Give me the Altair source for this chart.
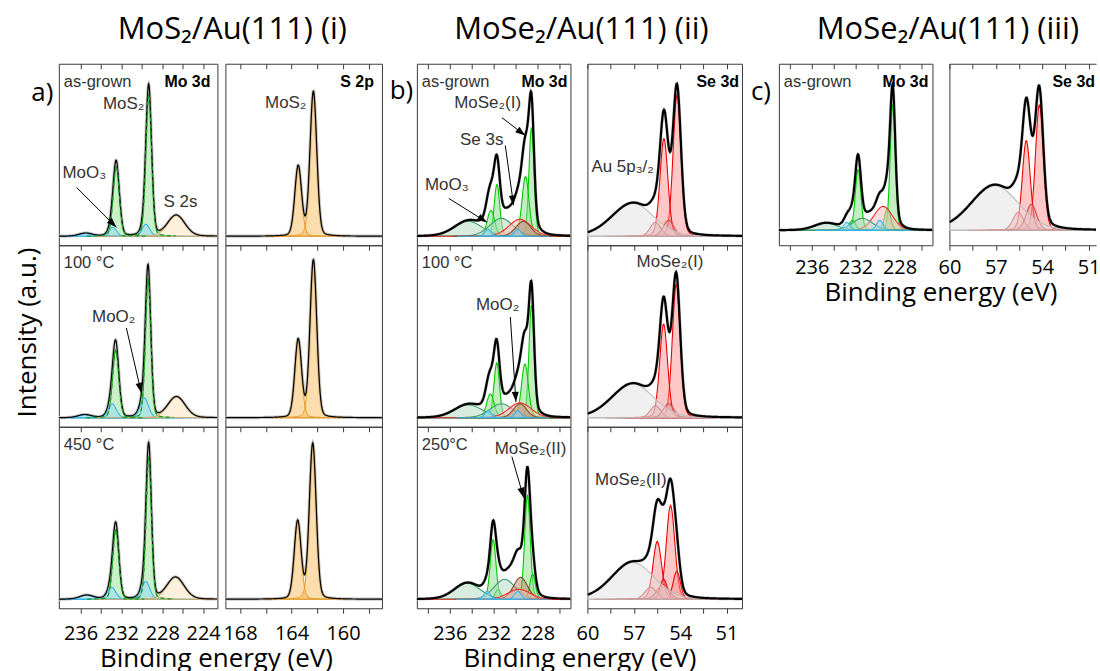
import numpy as np
import pandas as pd
import altair as alt

# ---------------------------------------------------------------------------
# Fitted XPS components: (binding energy / eV, peak height / a.u., FWHM / eV, species)
# ---------------------------------------------------------------------------
# (i) MoS2/Au(111), Mo 3d region
MOS2_MO3D_ASGROWN = [
    (229.32, 143, 0.66, "MoS2"), (232.50, 70, 0.72, "MoS2"),
    (229.60, 12, 0.90, "MoOx"), (232.85, 9, 0.90, "MoOx"), (235.50, 3, 1.50, "MoOx"),
    (226.63, 21, 2.00, "S2s"),
]
MOS2_MO3D_100C = [
    (229.38, 140, 0.62, "MoS2"), (232.55, 68, 0.72, "MoS2"),
    (229.75, 20, 0.95, "MoOx"), (232.90, 14, 0.95, "MoOx"), (235.60, 3, 1.50, "MoOx"),
    (226.60, 21, 2.00, "S2s"),
]
MOS2_MO3D_450C = [
    (229.32, 143, 0.62, "MoS2"), (232.54, 70, 0.70, "MoS2"),
    (229.62, 18, 0.95, "MoOx"), (232.95, 12, 0.95, "MoOx"), (235.40, 4, 1.60, "MoOx"),
    (226.70, 22, 2.00, "S2s"),
]
# (i) MoS2/Au(111), S 2p region
MOS2_S2P_ASGROWN = [(162.30, 145, 0.62, "S2p"), (163.48, 70, 0.62, "S2p")]
MOS2_S2P_100C = [(162.30, 158, 0.62, "S2p"), (163.48, 78, 0.62, "S2p")]
MOS2_S2P_450C = [(162.35, 156, 0.63, "S2p"), (163.52, 78, 0.63, "S2p")]

# (ii) MoSe2/Au(111), Mo 3d region
MOSE2_MO3D_ASGROWN = [
    (228.55, 109, 0.55, "MoSe2"), (231.70, 52, 0.60, "MoSe2"),
    (229.10, 60, 0.75, "MoSe2"), (232.25, 26, 0.80, "MoSe2"),
    (234.30, 15, 3.00, "MoO3"), (231.30, 18, 2.50, "MoO3"),
    (229.60, 17, 2.40, "Se3s"), (229.30, 15, 1.60, "MoO2"),
    (232.50, 7, 0.70, "MoOx"), (229.80, 7, 0.70, "MoOx"),
]
MOSE2_MO3D_100C = [
    (228.55, 113, 0.55, "MoSe2"), (231.72, 55, 0.60, "MoSe2"),
    (229.15, 54, 0.75, "MoSe2"), (232.30, 24, 0.80, "MoSe2"),
    (234.30, 13, 3.00, "MoO3"), (231.30, 14, 2.50, "MoO3"),
    (229.60, 15, 2.40, "Se3s"), (229.60, 14, 1.40, "MoO2"),
    (232.50, 7, 0.70, "MoOx"), (229.80, 7, 0.70, "MoOx"),
]
MOSE2_MO3D_250C = [
    (228.92, 104, 0.60, "MoSe2"), (228.45, 25, 0.60, "MoSe2"),
    (232.05, 60, 0.62, "MoSe2"), (231.60, 10, 0.60, "MoSe2"),
    (231.00, 20, 2.30, "MoO3"), (234.40, 16, 2.80, "MoO3"),
    (229.55, 22, 1.50, "MoO2"), (229.70, 10, 2.40, "Se3s"),
    (232.60, 8, 0.70, "MoOx"), (229.80, 8, 0.70, "MoOx"),
]
# (ii) MoSe2/Au(111), Se 3d region
MOSE2_SE3D_ASGROWN = [
    (54.20, 142, 0.60, "Se3d"), (55.05, 98, 0.60, "Se3d"),
    (55.60, 14, 0.80, "Se3d_b"), (54.75, 16, 0.80, "Se3d_b"),
    (57.06, 33, 3.20, "Au"),
]
MOSE2_SE3D_100C = [
    (54.25, 134, 0.60, "Se3d"), (55.07, 94, 0.60, "Se3d"),
    (55.60, 12, 0.80, "Se3d_b"), (54.75, 14, 0.80, "Se3d_b"),
    (57.06, 34, 3.20, "Au"),
]
MOSE2_SE3D_250C = [
    (54.62, 94, 0.65, "Se3d"), (55.48, 58, 0.65, "Se3d"),
    (54.22, 28, 0.55, "Se3d"), (55.07, 20, 0.55, "Se3d"),
    (55.90, 12, 0.90, "Se3d_b"), (55.10, 15, 0.90, "Se3d_b"),
    (57.06, 37, 3.20, "Au"),
]
# (iii) MoSe2/Au(111), as-grown
MOSE2_III_MO3D = [
    (228.62, 126, 0.55, "MoSe2"), (231.78, 61, 0.60, "MoSe2"),
    (229.10, 22, 0.65, "MoSe2"), (232.30, 10, 0.70, "MoSe2"),
    (229.50, 24, 2.00, "Se3s"), (234.70, 7, 2.50, "MoO3"), (231.40, 12, 2.20, "MoO3"),
    (232.80, 8, 0.70, "MoOx"), (229.80, 10, 0.70, "MoOx"),
]
MOSE2_III_SE3D = [
    (54.18, 126, 0.60, "Se3d"), (55.03, 90, 0.60, "Se3d"),
    (55.55, 18, 0.80, "Se3d_b"), (54.70, 26, 0.80, "Se3d_b"),
    (57.07, 45, 3.60, "Au"),
]

# Binding-energy windows (left edge, right edge) and tick values
MO3D_WINDOW_I = (238.12, 222.6)
S2P_WINDOW = (169.14, 156.97)
MO3D_WINDOW = (239.0, 225.0)
SE3D_WINDOW = (60.0, 50.0)
SE3D_WINDOW_III = (60.0, 50.52)
MO3D_TICKS_I = [236, 234, 232, 230, 228, 226, 224]
S2P_TICKS = [168, 166, 164, 162, 160, 158]
MO3D_TICKS = [238, 236, 234, 232, 230, 228, 226]
SE3D_TICKS = [60, 58.5, 57, 55.5, 54, 52.5, 51]

# Peak labels (binding energy, intensity, text) and arrows (from eV, I, to eV, I)
NOTES_MOS2_MO_ASGROWN = [(231.78, 133, "MoS₂"), (235.63, 63, "MoO₃"), (226.21, 34, "S 2s")]
ARROWS_MOS2_MO_ASGROWN = [(236.39, 49, 232.49, 9)]
NOTES_MOS2_MO_100C = [(232.75, 101, "MoO₂")]
ARROWS_MOS2_MO_100C = [(231.51, 90, 230.05, 25)]
NOTES_MOS2_S_ASGROWN = [(164.45, 134, "MoS₂")]
NOTES_MOSE2_MO_ASGROWN = [(232.55, 134, "MoSe₂(I)"), (233.09, 97, "Se 3s"), (236.27, 51, "MoO₃")]
ARROWS_MOSE2_MO_ASGROWN = [(231.25, 119, 229.12, 101), (230.94, 91, 230.18, 31),
                           (236.09, 38, 232.61, 14)]
NOTES_MOSE2_MO_100C = [(231.64, 113, "MoO₂")]
ARROWS_MOSE2_MO_100C = [(230.48, 101, 229.97, 16)]
NOTES_MOSE2_MO_250C = [(228.64, 151, "MoSe₂(II)")]
ARROWS_MOSE2_MO_250C = [(230.34, 143, 229.27, 102)]
NOTES_MOSE2_SE_ASGROWN = [(57.72, 69, "Au 5p₃/₂")]
NOTES_MOSE2_SE_100C = [(54.66, 156, "MoSe₂(I)")]
NOTES_MOSE2_SE_250C = [(57.19, 120, "MoSe₂(II)")]

# ---------------------------------------------------------------------------
# Styling
# ---------------------------------------------------------------------------
HEAD_FONT = "Open Sans"
LABEL_FONT = "Liberation Sans"
INK = "#333333"
FRAME = "#3a3a3a"

KINDS = ["MoS2", "MoSe2", "MoO3", "MoOx", "MoO2", "Se3s", "Se3d", "Se3d_b", "Au", "S2p", "S2s"]
FILLS = ["#9FE39F", "#8FE08F", "#B3DCC2", "#94D9F2", "#B58A6E", "#FFB8B8",
         "#FF8F8F", "#E9A0A0", "#E0E0E0", "#F8B84E", "#FBDDB4"]
STROKES = ["#22A822", "#00CC00", "#3E9E68", "#35B7EA", "#8B4A2B", "#FF2A2A",
           "#F00000", "#D04848", "#BDBDBD", "#E5A035", "#D9A867"]
OPACITIES = [0.55, 0.45, 0.5, 0.5, 0.55, 0.35, 0.45, 0.4, 0.75, 0.85, 0.8]
ETA = 0.15  # Lorentzian fraction of the pseudo-Voigt line shape
ARROW_HEAD = "M0,0L-0.35,1L0.35,1Z"
ROW_H = 182


def pseudo_voigt(x, c, h, w, eta=ETA):
    t = (x - c) / w
    return h * ((1 - eta) * np.exp(-4 * np.log(2) * t * t) + eta / (1 + 4 * t * t))


def component_table(comps, lo, hi):
    parts = []
    for i, (c, h, w, kind) in enumerate(comps):
        a, b = max(lo, c - 4 * w), min(hi, c + 4 * w)
        n = int(np.clip((b - a) / (w / 14), 40, 320)) + 1
        x = np.linspace(a, b, n)
        parts.append(pd.DataFrame({"eV": x.round(3),
                                   "I": pseudo_voigt(x, c, h, w).round(2),
                                   "comp": i, "kind": kind}))
    return pd.concat(parts, ignore_index=True)


def envelope_table(comps, lo, hi):
    x = np.linspace(lo, hi, int((hi - lo) / 0.03) + 1)
    y = sum(pseudo_voigt(x, c, h, w) for c, h, w, _ in comps)
    return pd.DataFrame({"eV": x.round(3), "I": np.round(y, 2)})


def panel(comps, window, ticks, label_every, width, *, ydom=(-9, 173), env_width=1.2,
          state="", core="", core_dx=6, notes=(), arrows=(), below=None, title=None,
          framed=True, dashed=False, base_color="#3DBDEB"):
    left, right = window
    lo, hi = min(window), max(window)
    xs = alt.Scale(domain=[left, right], nice=False, zero=False)
    ys = alt.Scale(domain=list(ydom), nice=False, zero=False)
    comp_df = component_table(comps, lo, hi)
    env_df = envelope_table(comps, lo, hi)

    def X(field, axis=None):
        return alt.X(f"{field}:Q", scale=xs, axis=axis)

    def Y(field, axis=None):
        return alt.Y(f"{field}:Q", scale=ys, axis=axis)

    top_ticks = alt.Axis(orient="top", values=ticks, labels=False, domain=False, ticks=True,
                         tickSize=5, offset=-5, title="", grid=False)
    left_axis = None if framed else alt.Axis(domain=True, ticks=False, labels=False,
                                            title="", grid=False)
    layers = [
        alt.Chart(pd.DataFrame({"eV": [lo, hi], "I": [0, 0]}))
        .mark_line(color=base_color, strokeWidth=1.5, clip=True)
        .encode(x=X("eV", top_ticks), y=Y("I", left_axis)),
        alt.Chart(env_df).mark_line(color="#C6C6C6", strokeWidth=3.2, clip=True)
        .encode(x=X("eV"), y=Y("I")),
        alt.Chart(comp_df).mark_area(strokeWidth=1.1, clip=True).encode(
            x=X("eV"), y=Y("I"), y2=alt.datum(0), detail="comp:N",
            fill=alt.Fill("kind:N", scale=alt.Scale(domain=KINDS, range=FILLS), legend=None),
            stroke=alt.Stroke("kind:N", scale=alt.Scale(domain=KINDS, range=STROKES),
                              legend=None),
            fillOpacity=alt.FillOpacity("kind:N",
                                        scale=alt.Scale(domain=KINDS, range=OPACITIES),
                                        legend=None)),
    ]

    if below is None:
        bottom_axis = None
    else:
        kw = dict(orient="bottom", values=ticks,
                  labelExpr=f"datum.value % {label_every} == 0 ? datum.label : ''",
                  domain=not framed, tickSize=5, labelFont=HEAD_FONT, labelFontSize=20,
                  labelColor="black", labelPadding=below["pad"], labelBaseline="alphabetic",
                  labelFlush=False, labelOverlap=False, grid=False, title=below.get("title", ""))
        if below.get("title"):
            kw.update(titleFont=HEAD_FONT, titleFontSize=26, titleFontWeight="normal",
                      titleColor="black", titleX=below["tx"], titleY=below["ty"],
                      titleAlign="center", titleBaseline="alphabetic")
        bottom_axis = alt.Axis(**kw)

    layers.append(alt.Chart(env_df).mark_line(color="black", strokeWidth=env_width, clip=True)
                  .encode(x=X("eV", bottom_axis), y=Y("I")))

    if dashed:
        layers.append(alt.Chart(comp_df).transform_filter(alt.datum.kind == "MoS2")
                      .mark_line(color="#1E9A1E", strokeWidth=1.3, strokeDash=[4, 3], clip=True)
                      .encode(x=X("eV"), y=Y("I"), detail="comp:N"))

    if not framed:
        layers.append(alt.Chart(pd.DataFrame({"eV": [lo, hi], "I": [0, 0]}))
                      .mark_line(opacity=0)
                      .encode(x=X("eV", alt.Axis(orient="top", domain=True, ticks=False,
                                                 labels=False, title="", grid=False)),
                              y=Y("I")))

    if notes:
        ndf = pd.DataFrame(notes, columns=["eV", "I", "text"])
        layers.append(alt.Chart(ndf).mark_text(font=LABEL_FONT, fontSize=17, color=INK,
                                               align="center", baseline="middle")
                      .encode(x=X("eV"), y=Y("I"), text="text:N"))

    if arrows:
        adf = pd.DataFrame(arrows, columns=["x1", "y1", "x2", "y2"])
        sx = width / (left - right)
        sy = ROW_H / (ydom[1] - ydom[0])
        dpx = -(adf["x2"] - adf["x1"]) * sx
        dpy = -(adf["y2"] - adf["y1"]) * sy
        adf["ang"] = (np.degrees(np.arctan2(dpx, -dpy)) % 360).round(1)
        layers.append(alt.Chart(adf).mark_rule(color="black", strokeWidth=1)
                      .encode(x=X("x1"), y=Y("y1"), x2="x2:Q", y2="y2:Q"))
        layers.append(alt.Chart(adf).mark_point(shape=ARROW_HEAD, filled=True, color="black",
                                                opacity=1, size=400)
                      .encode(x=X("x2"), y=Y("y2"), angle=alt.Angle("ang:Q", scale=None)))

    if state:
        layers.append(alt.Chart(pd.DataFrame({"t": [state]}))
                      .mark_text(font=LABEL_FONT, fontSize=16.5, color=INK, align="left",
                                 baseline="middle")
                      .encode(x=alt.value(5), y=alt.value(18), text="t:N"))
    if core:
        layers.append(alt.Chart(pd.DataFrame({"t": [core]}))
                      .mark_text(font=LABEL_FONT, fontSize=16, fontWeight="bold", color="black",
                                 align="right", baseline="middle")
                      .encode(x=alt.value(width - core_dx), y=alt.value(18), text="t:N"))

    props = dict(width=width, height=ROW_H)
    if title is not None:
        props["title"] = alt.TitleParams(text=title["text"], anchor="end", align="center",
                                         frame="group", dx=title["dx"], dy=29, offset=22,
                                         baseline="alphabetic", font=HEAD_FONT, fontSize=31,
                                         fontWeight="normal", color="black")
    if not framed:
        props["view"] = alt.ViewBackground(strokeOpacity=0)
    return alt.layer(*layers).resolve_axis(x="independent", y="independent").properties(**props)


def spacer(w, h, text="", x=None, y=None, size=26, angle=0):
    # blank cells keep their (empty) text in the middle so it never widens the layout
    x = w / 2 if x is None else x
    y = h / 2 if y is None else y
    return (alt.Chart(pd.DataFrame({"t": [text]}))
            .mark_text(font=HEAD_FONT, fontSize=size, color="black", angle=angle,
                       align="center", baseline="middle")
            .encode(x=alt.value(x), y=alt.value(y), text="t:N")
            .properties(width=w, height=h, view=alt.ViewBackground(strokeOpacity=0)))


W = [59, 159, 8, 157, 35, 154, 17, 155, 37, 154, 17, 147]
SE = "#BDBDBD"

a_mo = [
    panel(MOS2_MO3D_ASGROWN, MO3D_WINDOW_I, MO3D_TICKS_I, 4, 159, state="as-grown",
          core="Mo 3d", core_dx=7, notes=NOTES_MOS2_MO_ASGROWN, arrows=ARROWS_MOS2_MO_ASGROWN,
          dashed=True, title={"text": "MoS₂/Au(111) (i)", "dx": 15}),
    panel(MOS2_MO3D_100C, MO3D_WINDOW_I, MO3D_TICKS_I, 4, 159, state="100 °C",
          notes=NOTES_MOS2_MO_100C, arrows=ARROWS_MOS2_MO_100C, dashed=True),
    panel(MOS2_MO3D_450C, MO3D_WINDOW_I, MO3D_TICKS_I, 4, 159, state="450 °C", dashed=True,
          below={"pad": 26, "title": "Binding energy (eV)", "tx": 157.5, "ty": 58}),
]
a_s = [
    panel(MOS2_S2P_ASGROWN, S2P_WINDOW, S2P_TICKS, 4, 157, core="S 2p", core_dx=8,
          notes=NOTES_MOS2_S_ASGROWN, base_color="#CFCFCF"),
    panel(MOS2_S2P_100C, S2P_WINDOW, S2P_TICKS, 4, 157, base_color="#CFCFCF"),
    panel(MOS2_S2P_450C, S2P_WINDOW, S2P_TICKS, 4, 157, base_color="#CFCFCF",
          below={"pad": 26}),
]
b_mo = [
    panel(MOSE2_MO3D_ASGROWN, MO3D_WINDOW, MO3D_TICKS, 4, 154, env_width=2.2, state="as-grown",
          core="Mo 3d", core_dx=3, notes=NOTES_MOSE2_MO_ASGROWN, arrows=ARROWS_MOSE2_MO_ASGROWN,
          title={"text": "MoSe₂/Au(111) (ii)", "dx": 11}),
    panel(MOSE2_MO3D_100C, MO3D_WINDOW, MO3D_TICKS, 4, 154, env_width=2.2, state="100 °C",
          notes=NOTES_MOSE2_MO_100C, arrows=ARROWS_MOSE2_MO_100C),
    panel(MOSE2_MO3D_250C, MO3D_WINDOW, MO3D_TICKS, 4, 154, env_width=2.2, state="250°C",
          notes=NOTES_MOSE2_MO_250C, arrows=ARROWS_MOSE2_MO_250C,
          below={"pad": 26, "title": "Binding energy (eV)", "tx": 163, "ty": 58}),
]
b_se = [
    panel(MOSE2_SE3D_ASGROWN, SE3D_WINDOW, SE3D_TICKS, 3, 155, env_width=2.2, core="Se 3d",
          core_dx=3, notes=NOTES_MOSE2_SE_ASGROWN, base_color=SE),
    panel(MOSE2_SE3D_100C, SE3D_WINDOW, SE3D_TICKS, 3, 155, env_width=2.2,
          notes=NOTES_MOSE2_SE_100C, base_color=SE),
    panel(MOSE2_SE3D_250C, SE3D_WINDOW, SE3D_TICKS, 3, 155, env_width=2.2,
          notes=NOTES_MOSE2_SE_250C, base_color=SE, below={"pad": 26}),
]
c_mo = panel(MOSE2_III_MO3D, MO3D_WINDOW, MO3D_TICKS, 4, 154, ydom=(-15, 167), env_width=2.2,
             state="as-grown", core="Mo 3d", core_dx=4,
             title={"text": "MoSe₂/Au(111) (iii)", "dx": 15.5},
             below={"pad": 23, "title": "Binding energy (eV)", "tx": 162, "ty": 55})
c_se = panel(MOSE2_III_SE3D, SE3D_WINDOW_III, SE3D_TICKS, 3, 147, ydom=(-15, 167),
             env_width=2.2, core="Se 3d", core_dx=1, base_color=SE, framed=False,
             below={"pad": 23})

cells = [spacer(w, 63) for w in W]
cells += [spacer(59, ROW_H, "a)", 42.5, 29), a_mo[0], spacer(8, ROW_H), a_s[0],
          spacer(35, ROW_H, "b)", 19.5, 27), b_mo[0], spacer(17, ROW_H), b_se[0],
          spacer(37, ROW_H, "c)", 19, 28), c_mo, spacer(17, ROW_H), c_se]
for r in (1, 2):
    first = (spacer(59, ROW_H, "Intensity (a.u.)", 28, 87.5, angle=270) if r == 1
             else spacer(59, ROW_H))
    cells += [first, a_mo[r], spacer(8, ROW_H), a_s[r], spacer(35, ROW_H), b_mo[r],
              spacer(17, ROW_H), b_se[r], spacer(37, ROW_H), spacer(154, ROW_H),
              spacer(17, ROW_H), spacer(147, ROW_H)]

chart = (
    alt.concat(*cells, columns=12, spacing=0, bounds="flush", align="each")
    .properties(padding=0, background="white")
    .configure_view(stroke=FRAME, strokeWidth=1)
    .configure_axis(tickColor=FRAME, tickWidth=1, domainColor=FRAME, domainWidth=1)
)

chart.save("out.html", embed_options={"renderer": "svg", "actions": False})
